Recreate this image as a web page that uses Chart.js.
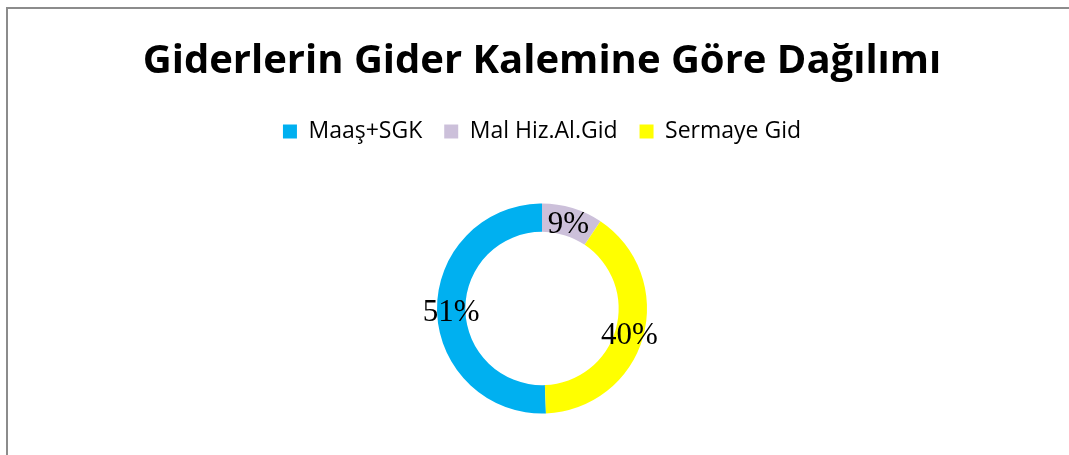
<!DOCTYPE html>
<html>
<head>
<meta charset="utf-8">
<script src="https://cdn.jsdelivr.net/npm/chart.js@4"></script>
<style>
  html, body { margin: 0; padding: 0; background: #fff; overflow: hidden; }
  #frame {
    position: absolute; left: 6px; top: 7px; width: 1100px; height: 500px;
    border-left: 2px solid #8c8c8c; border-top: 2px solid #8c8c8c;
  }
  #wrap { position: absolute; left: 0; top: 0; width: 1069px; height: 480px; }
</style>
</head>
<body>
<div id="frame"></div>
<div id="wrap"><canvas id="donut"></canvas></div>
<script>
const chartTitle = 'Giderlerin Gider Kalemine Göre Dağılımı';
const categories = ['Maaş+SGK', 'Mal Hiz.Al.Gid', 'Sermaye Gid'];
const shares = [50.6, 9.4, 40.0];
const colors = ['#00b0f0', '#ccc0da', '#ffff00'];

const total = shares.reduce((a, b) => a + b, 0);

// percent labels in the middle of the ring
const pctLabels = {
  id: 'pctLabels',
  afterDatasetsDraw(chart) {
    const ctx = chart.ctx;
    const meta = chart.getDatasetMeta(0);
    ctx.save();
    ctx.font = '31px "Liberation Serif", "Times New Roman", serif';
    ctx.fillStyle = '#000';
    ctx.textAlign = 'center';
    ctx.textBaseline = 'middle';
    meta.data.forEach((arc, i) => {
      const p = arc.tooltipPosition();
      ctx.fillText(Math.round(shares[i] / total * 100) + '%', p.x, p.y + 3);
    });
    ctx.restore();
  }
};

const chart = new Chart(document.getElementById('donut'), {
  type: 'doughnut',
  data: {
    labels: categories,
    datasets: [{
      data: shares,
      backgroundColor: colors,
      borderWidth: 0
    }]
  },
  options: {
    responsive: true,
    maintainAspectRatio: false,
    animation: false,
    rotation: 360 - shares[0] / total * 360,
    radius: 105,
    cutout: '73%',
    layout: { padding: { left: 15, right: 0, top: 0, bottom: 16 } },
    plugins: {
      title: {
        display: true,
        text: chartTitle,
        color: '#000',
        font: { family: '"Open Sans"', size: 40, weight: 'bold' },
        padding: { top: 38, bottom: 12 }
      },
      legend: {
        position: 'top',
        labels: {
          color: '#000',
          font: { family: '"Open Sans"', size: 23 },
          boxWidth: 14,
          boxHeight: 14,
          padding: 22
        }
      },
      tooltip: { enabled: false }
    }
  },
  plugins: [pctLabels]
});
</script>
</body>
</html>
